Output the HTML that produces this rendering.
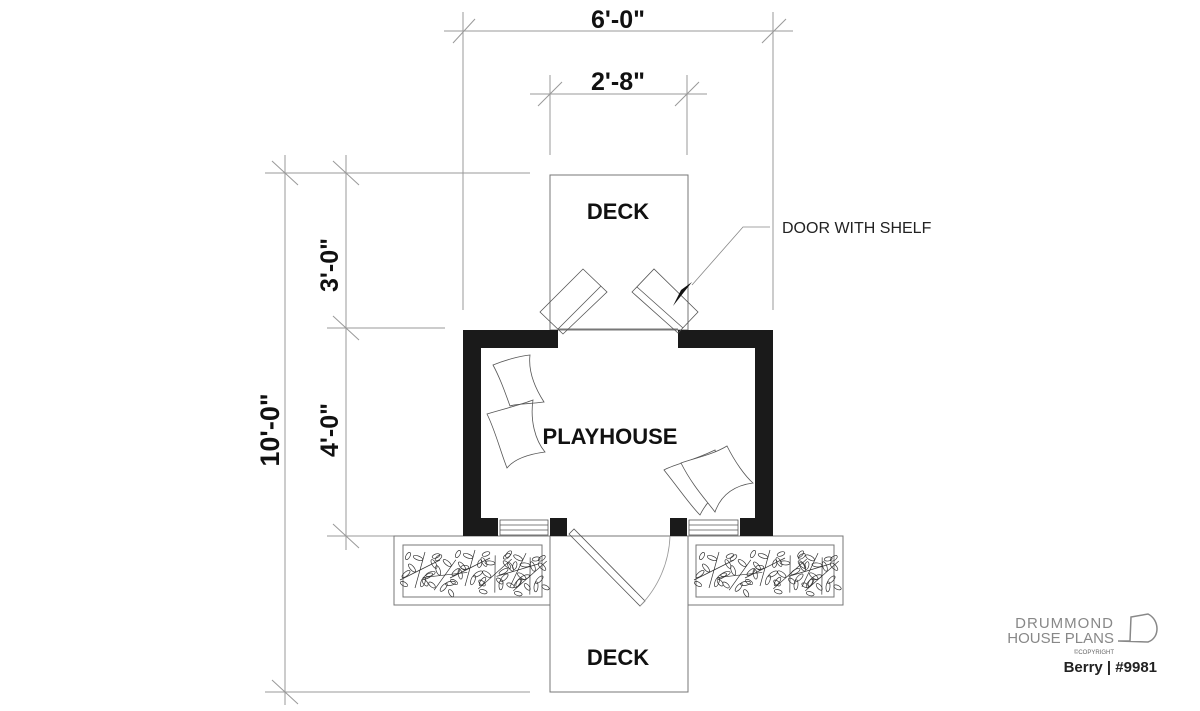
<!DOCTYPE html>
<html><head><meta charset="utf-8"><style>
html,body{margin:0;padding:0;background:#fff;}
svg{display:block;}
text{font-family:"Liberation Sans",sans-serif;}
</style></head><body>
<svg width="1200" height="711" viewBox="0 0 1200 711" xmlns="http://www.w3.org/2000/svg">
<defs>
<g id="leafset" fill="none" stroke="#333" stroke-width="0.7">
  <path d="M-20,10 L20,-10 M-5,18 L5,-18"/>
  <ellipse cx="-14" cy="4" rx="5" ry="2" transform="rotate(-40 -14 4)"/>
  <ellipse cx="-8" cy="-2" rx="5" ry="2" transform="rotate(50 -8 -2)"/>
  <ellipse cx="8" cy="6" rx="5" ry="2" transform="rotate(-30 8 6)"/>
  <ellipse cx="14" cy="-6" rx="5" ry="2" transform="rotate(60 14 -6)"/>
  <ellipse cx="-2" cy="-12" rx="5" ry="2" transform="rotate(20 -2 -12)"/>
  <ellipse cx="3" cy="12" rx="5" ry="2" transform="rotate(-70 3 12)"/>
  <ellipse cx="-16" cy="14" rx="4" ry="2" transform="rotate(30 -16 14)"/>
  <ellipse cx="16" cy="-14" rx="4" ry="2" transform="rotate(-20 16 -14)"/>
  <ellipse cx="-12" cy="-14" rx="4" ry="2" transform="rotate(-60 -12 -14)"/>
  <ellipse cx="12" cy="15" rx="4" ry="2" transform="rotate(40 12 15)"/>
</g>
</defs>
<g stroke="#999" stroke-width="1" fill="none">
  <line x1="444" y1="31" x2="793" y2="31"/>
  <line x1="463" y1="12" x2="463" y2="310"/>
  <line x1="773" y1="12" x2="773" y2="310"/>
  <line x1="453" y1="43" x2="475" y2="19"/>
  <line x1="762" y1="43" x2="786" y2="19"/>
  <line x1="530" y1="94" x2="707" y2="94"/>
  <line x1="550" y1="75" x2="550" y2="155"/>
  <line x1="687" y1="75" x2="687" y2="155"/>
  <line x1="538" y1="106" x2="562" y2="82"/>
  <line x1="675" y1="106" x2="699" y2="82"/>
  <line x1="285" y1="155" x2="285" y2="705"/>
  <line x1="346" y1="155" x2="346" y2="550"/>
  <line x1="265" y1="173" x2="530" y2="173"/>
  <line x1="327" y1="328" x2="445" y2="328"/>
  <line x1="327" y1="536" x2="394" y2="536"/>
  <line x1="265" y1="692" x2="530" y2="692"/>
  <line x1="272" y1="161" x2="298" y2="185"/>
  <line x1="333" y1="161" x2="359" y2="185"/>
  <line x1="333" y1="316" x2="359" y2="340"/>
  <line x1="333" y1="524" x2="359" y2="548"/>
  <line x1="272" y1="680" x2="298" y2="704"/>
</g>
<g stroke="#777" stroke-width="1" fill="none">
  <rect x="550" y="175" width="138" height="155"/>
  <rect x="550" y="536" width="138" height="156"/>
  <rect x="394" y="536" width="156" height="69"/>
  <rect x="403" y="545" width="139" height="52"/>
  <rect x="688" y="536" width="155" height="69"/>
  <rect x="696" y="545" width="138" height="52"/>
  <line x1="558" y1="329" x2="678" y2="329"/>
</g>
<g>
  <use href="#leafset" transform="translate(420,570)"/>
  <use href="#leafset" transform="translate(445,575) rotate(20)"/>
  <use href="#leafset" transform="translate(470,568)"/>
  <use href="#leafset" transform="translate(495,574) rotate(-15)"/>
  <use href="#leafset" transform="translate(518,570) rotate(10)"/>
  <use href="#leafset" transform="translate(530,576) rotate(-15)"/>
  <use href="#leafset" transform="translate(714,570)"/>
  <use href="#leafset" transform="translate(740,575) rotate(20)"/>
  <use href="#leafset" transform="translate(765,568)"/>
  <use href="#leafset" transform="translate(790,574) rotate(-15)"/>
  <use href="#leafset" transform="translate(810,570) rotate(10)"/>
  <use href="#leafset" transform="translate(822,576) rotate(-15)"/>
</g>
<g fill="#1a1a1a">
  <rect x="463" y="330" width="95" height="18"/>
  <rect x="678" y="330" width="95" height="18"/>
  <rect x="463" y="330" width="18" height="206"/>
  <rect x="755" y="330" width="18" height="206"/>
  <rect x="463" y="518" width="35" height="18"/>
  <rect x="550" y="518" width="17" height="18"/>
  <rect x="670" y="518" width="17" height="18"/>
  <rect x="740" y="518" width="33" height="18"/>
</g>
<g stroke="#555" stroke-width="0.8" fill="none">
  <rect x="500" y="520" width="48" height="15"/>
  <line x1="500" y1="525" x2="548" y2="525"/><line x1="500" y1="530" x2="548" y2="530"/>
  <rect x="689" y="520" width="49" height="15"/>
  <line x1="689" y1="525" x2="738" y2="525"/><line x1="689" y1="530" x2="738" y2="530"/>
  <polygon points="569,534 574,529 645,601 640,606"/>
  <path d="M640,606 A105,105 0 0 0 670,536" stroke="#999"/>
  <polygon points="540,312 583,269 607,292 563,334"/>
  <line x1="601" y1="286" x2="558" y2="329"/>
  <polygon points="632,292 654,269 698,312 678,333"/>
  <line x1="637" y1="287" x2="683" y2="328"/>
  <polyline points="770,227 743,227 692,285" stroke="#888"/>
  <path d="M493,365 C505,360 520,356 530,355 C528,372 535,388 544,402 C528,404 515,404 510,406 C505,392 500,378 493,365Z"/>
  <path d="M487,414 C500,410 520,405 533,400 C530,420 535,440 545,452 C530,454 515,458 507,468 C500,450 495,430 487,414Z"/>
  <path d="M664,470 C675,464 690,462 715,450 C718,465 728,480 737,487 C722,490 710,495 700,515 C690,505 680,490 664,470Z"/>
  <path d="M681,463 C695,458 712,455 727,446 C735,462 745,476 753,483 C738,485 722,492 715,512 C706,500 692,485 681,463Z" fill="#fff"/>
</g>
<polygon points="673,306 692,282 681,290" fill="#111"/>
<g font-weight="bold" fill="#111" text-anchor="middle">
  <text x="618" y="28" font-size="25">6'-0"</text>
  <text x="618" y="90" font-size="25">2'-8"</text>
  <text x="618" y="219" font-size="22">DECK</text>
  <text x="610" y="444" font-size="22">PLAYHOUSE</text>
  <text x="618" y="665" font-size="22">DECK</text>
  <text transform="translate(338,265) rotate(-90)" font-size="25">3'-0"</text>
  <text transform="translate(338,430) rotate(-90)" font-size="25">4'-0"</text>
  <text transform="translate(279,430) rotate(-90)" font-size="27">10'-0"</text>
</g>
<text x="782" y="233" font-size="16" fill="#222">DOOR WITH SHELF</text>
<g fill="#888" text-anchor="end">
  <text x="1114" y="628" font-size="15" letter-spacing="1">DRUMMOND</text>
  <text x="1114" y="643" font-size="15">HOUSE PLANS</text>
  <text x="1114" y="654" font-size="6" fill="#666">©COPYRIGHT</text>
</g>
<path d="M1118,641 L1130,641 L1131,617 L1148,614 C1160,620 1160,638 1148,642 L1118,641" fill="none" stroke="#888" stroke-width="1.5"/>
<text x="1157" y="672" font-size="15" font-weight="bold" fill="#222" text-anchor="end">Berry | #9981</text>
</svg>
</body></html>
